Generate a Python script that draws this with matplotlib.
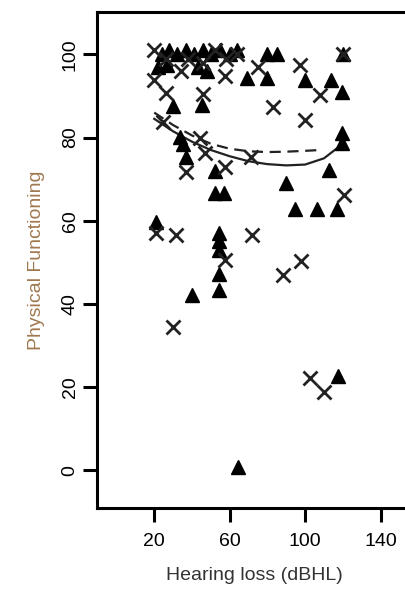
import matplotlib
matplotlib.use("Agg")
import matplotlib.pyplot as plt

# =======================
# DATA
# =======================
tri_x = [24, 28, 32, 37, 41, 46, 50, 55, 60, 64, 80, 85, 120,
         22, 27, 43, 48,
         69, 80, 100, 113.5, 119.7,
         29.9, 45.2,
         119.7, 119.7,
         35, 37, 33.5,
         52.3, 112.6,
         89.8,
         52.3, 56.9,
         94.6, 106.5, 117,
         20.9,
         54.5, 54.5, 54.5, 54.5, 54.5, 39.8,
         117.4, 64.6]
tri_y = [100, 101, 100, 101, 100, 101, 100, 101, 100, 101, 100, 100, 100,
         97, 97.5, 97, 96,
         94.3, 94.3, 93.9, 93.9, 91,
         87.6, 87.8,
         81.2, 78.7,
         78.5, 75.4, 80.2,
         72, 72.2,
         69,
         66.6, 66.6,
         62.8, 62.8, 62.8,
         59.8,
         57, 55, 53, 47.3, 43.3, 42.1,
         22.6, 0.8]

x_x = [20, 26, 34, 38, 46, 52, 58, 64, 57.7, 20, 26.3, 46, 97.3, 74.8,
       108, 120, 82.9, 100, 24.5, 44.3, 47, 37.1, 57.7, 71.2, 120.6,
       20.9, 31.7, 72.1, 57.7, 88.3, 97.6, 29.9, 102.7, 109.9]
x_y = [101, 99, 96, 99, 98, 101, 99, 100, 94.7, 93.9, 90.7, 90.5, 97.5, 97,
       90.3, 100, 87.4, 84.2, 83.8, 79.8, 76.2, 71.6, 73, 75.2, 66.2,
       57, 56.6, 56.6, 50.5, 46.9, 50.3, 34.5, 22.1, 18.8]

# fitted curves
solid_x = [20, 30, 40, 50, 60, 70, 80, 90, 100, 110, 118]
solid_y = [84.5, 81.5, 79, 77, 75.5, 74.3, 73.6, 73.3, 73.5, 75, 77.8]
dash_x = [20, 30, 40, 50, 60, 70, 80, 90, 100, 108]
dash_y = [86, 83, 80.5, 78.5, 77.3, 76.7, 76.5, 76.6, 76.8, 77]

x_ticks = [20, 60, 100, 140]
y_ticks = [0, 20, 40, 60, 80, 100]

# =======================
# PLOT
# =======================
plt.rcParams["font.family"] = ["Liberation Sans", "DejaVu Sans"]

fig = plt.figure(figsize=(4.05, 5.97), dpi=100)
ax = fig.add_axes([0.2388, 0.149, 0.78, 0.831])

ax.plot(solid_x, solid_y, color="#222222", lw=1.6, zorder=2)
ax.plot(dash_x, dash_y, color="#222222", lw=1.6, ls=(0, (5, 3)), zorder=2)

ax.plot(tri_x, tri_y, ls="none", marker="^", ms=10.5, color="black",
        mec="black", zorder=3)
ax.plot(x_x, x_y, ls="none", marker="x", ms=9.5, color="#222222",
        mew=2.0, zorder=3)

ax.set_xlim(-10.5, 157)
ax.set_ylim(-9.1, 110.2)
ax.set_xticks(x_ticks)
ax.set_yticks(y_ticks)
ax.set_yticklabels([str(v) for v in y_ticks], rotation=90, va="center")

for side in ["left", "top", "bottom"]:
    ax.spines[side].set_linewidth(2.2)
ax.spines["right"].set_visible(False)

ax.tick_params(axis="both", length=10, width=2.2, labelsize=14,
               colors="black")
ax.tick_params(axis="x", pad=8)
ax.tick_params(axis="y", pad=3)

ax.set_xlabel("Hearing loss (dBHL)", fontsize=14, color="#333333",
              labelpad=12)
ax.set_ylabel("Physical Functioning", fontsize=14, color="#a07850",
              labelpad=12)

fig.savefig("out.png", dpi=100)
